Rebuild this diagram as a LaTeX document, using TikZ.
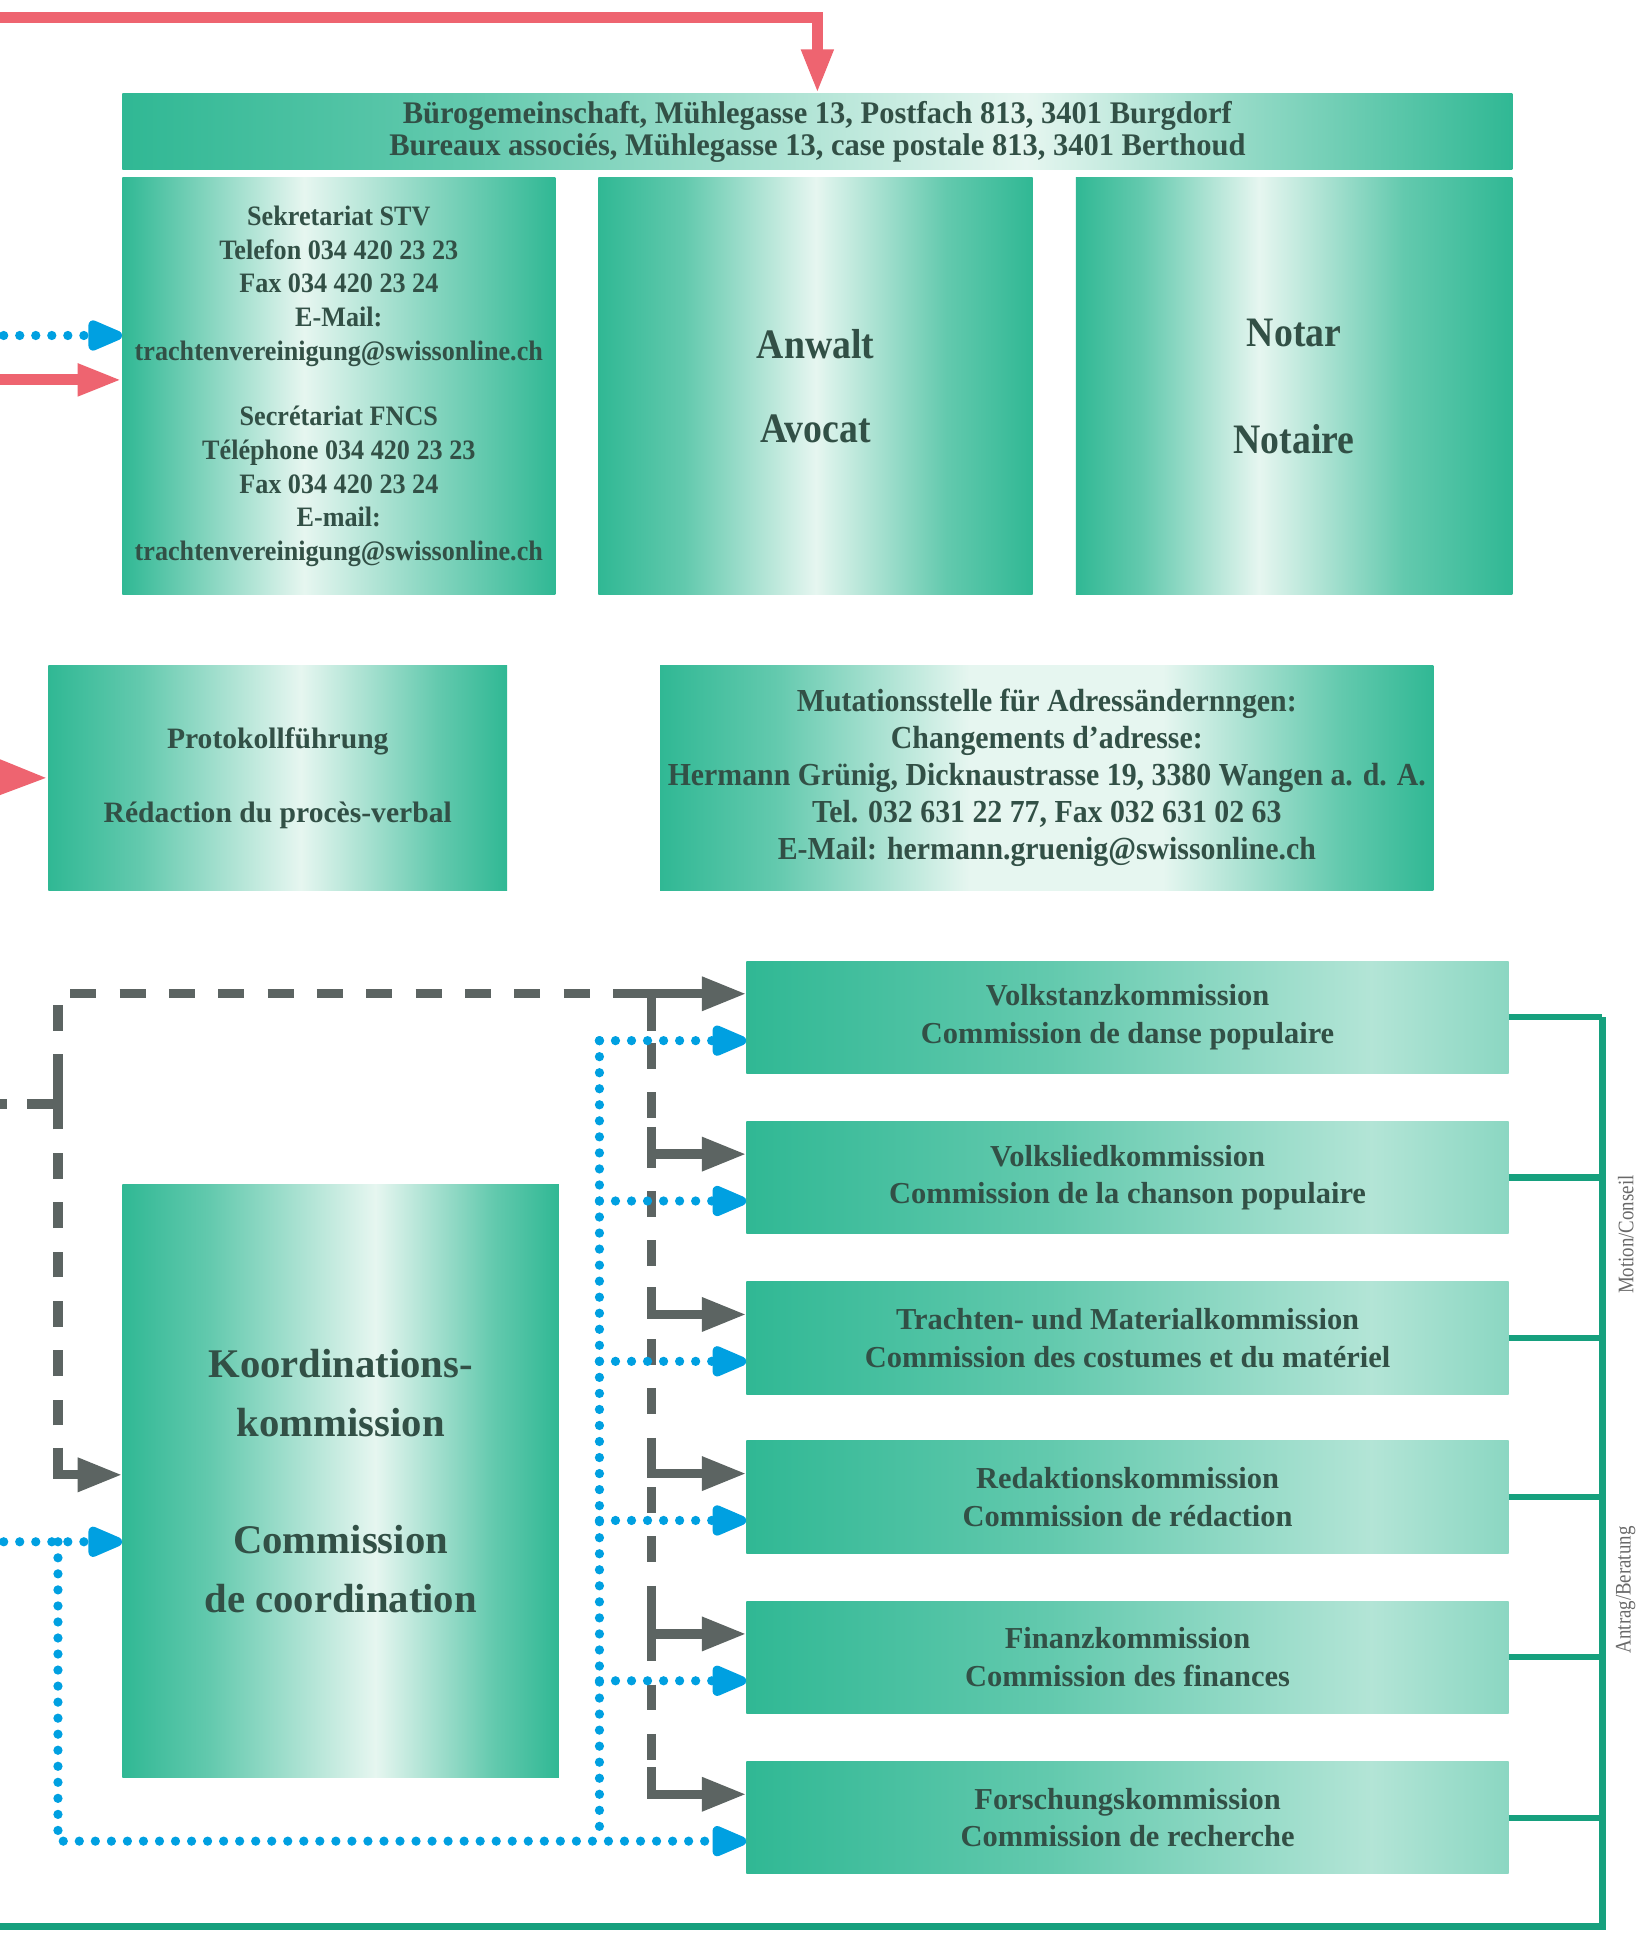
\documentclass[tikz,border=0pt]{standalone}
\usepackage{fontspec}
\setmainfont{Liberation Serif}
\newfontfamily\fBan{Liberation Serif}[FakeStretch=0.97]
\newfontfamily\fSek{Liberation Serif}[FakeStretch=0.93]
\newfontfamily\fMut{Liberation Serif}[FakeStretch=0.93]
\newfontfamily\fCond{Liberation Serif}[FakeStretch=0.9]
\newfontfamily\fLab{Liberation Serif}[FakeStretch=0.85]
\usetikzlibrary{arrows.meta,calc}
\definecolor{tl}{RGB}{48,184,148}
\definecolor{pl}{RGB}{230,246,240}
\colorlet{t1}{tl!72!pl}
\colorlet{tm}{tl!50!pl}
\colorlet{tp}{tl!28!pl}
\definecolor{tx}{RGB}{50,80,70}
\definecolor{rd}{RGB}{238,100,112}
\definecolor{bl}{RGB}{0,160,225}
\definecolor{gy}{RGB}{92,100,98}
\definecolor{gr}{RGB}{22,160,126}
\definecolor{lab}{RGB}{105,105,105}
% stops mapped: box fraction p -> 25 + p/2 (bp)
\pgfdeclarehorizontalshading{gSek}{100bp}{color(0bp)=(tl); color(25bp)=(tl); color(31bp)=(t1); color(46bp)=(pl); color(60bp)=(tm); color(75bp)=(tl); color(100bp)=(tl)}
\pgfdeclarehorizontalshading{gAnw}{100bp}{color(0bp)=(tl); color(25bp)=(tl); color(35bp)=(t1); color(50bp)=(pl); color(65bp)=(t1); color(75bp)=(tl); color(100bp)=(tl)}
\pgfdeclarehorizontalshading{gNot}{100bp}{color(0bp)=(tl); color(25bp)=(tl); color(32.5bp)=(t1); color(46bp)=(pl); color(62.5bp)=(t1); color(75bp)=(tl); color(100bp)=(tl)}
\pgfdeclarehorizontalshading{gBan}{100bp}{color(0bp)=(tl); color(25bp)=(tl); color(37.5bp)=(t1); color(57.5bp)=(pl); color(70bp)=(t1); color(75bp)=(tl); color(100bp)=(tl)}
\pgfdeclarehorizontalshading{gProt}{100bp}{color(0bp)=(tl); color(25bp)=(tl); color(35bp)=(t1); color(52.5bp)=(pl); color(67.5bp)=(t1); color(75bp)=(tl); color(100bp)=(tl)}
\pgfdeclarehorizontalshading{gMut}{100bp}{color(0bp)=(tl); color(25bp)=(tl); color(32.5bp)=(t1); color(45bp)=(pl); color(57.5bp)=(pl); color(69bp)=(t1); color(75bp)=(tl); color(100bp)=(tl)}
\pgfdeclarehorizontalshading{gCom}{100bp}{color(0bp)=(tl); color(25bp)=(tl); color(45bp)=(t1); color(66bp)=(tp); color(75bp)=(tm); color(100bp)=(tm)}
\pgfdeclarehorizontalshading{gKoo}{100bp}{color(0bp)=(tl); color(25bp)=(tl); color(35bp)=(t1); color(54bp)=(pl); color(67.5bp)=(t1); color(75bp)=(tl); color(100bp)=(tl)}
\tikzset{
  box/.style={rectangle, draw=none, inner sep=0pt, anchor=north west, shade, shading angle=0,
    text=tx, align=center, font=\bfseries},
  comm/.style={box, shading=gCom, minimum width=618, minimum height=91,
    font=\bfseries\fontsize{24.7}{30.5}\selectfont},
  redl/.style={draw=rd, line width=9pt, -{Triangle[length=36pt,width=24pt]}},
  bdot/.style={draw=bl, line width=7.5pt, line cap=round, dash pattern=on 0pt off 13pt},
  bdotarr/.style={bdot, -{Triangle[length=34pt,width=26pt,round=false]}},
  gdash/.style={draw=gy, line width=7.5pt, dash pattern=on 21pt off 19pt},
  gsol/.style={draw=gy, line width=7.5pt},
  garr/.style={draw=gy, line width=7.5pt, -{Triangle[length=36pt,width=26pt]}},
  grl/.style={draw=gr, line width=5pt},
  labl/.style={rotate=90, text=lab, font=\fLab\fontsize{18}{18}\selectfont, inner sep=0pt}
}
\begin{document}
\begin{tikzpicture}[x=1pt,y=-1pt]
\useasboundingbox (0,0) rectangle (1334,1568);
\fill[white] (0,0) rectangle (1334,1568);

% boxes
\node[box, shading=gBan, minimum width=1127, minimum height=61,
  font=\fBan\bfseries\fontsize{25.5}{26}\selectfont] (ban) at (99,76)
  {Bürogemeinschaft, Mühlegasse 13, Postfach 813, 3401 Burgdorf\\Bureaux associés, Mühlegasse 13, case postale 813, 3401 Berthoud};
\node[box, shading=gSek, minimum width=351, minimum height=338,
  font=\fSek\bfseries\fontsize{22.8}{27.3}\selectfont] (sek) at (99,144)
  {Sekretariat STV\\Telefon 034 420 23 23\\Fax 034 420 23 24\\E-Mail:\\trachtenvereinigung@swissonline.ch\\[26pt]Secrétariat FNCS\\Téléphone 034 420 23 23\\Fax 034 420 23 24\\E-mail:\\trachtenvereinigung@swissonline.ch};
\node[box, shading=gAnw, minimum width=352, minimum height=338,
  font=\fCond\bfseries\fontsize{34}{34}\selectfont] (anw) at (485,144)
  {Anwalt\\[34pt]Avocat};
\node[box, shading=gNot, minimum width=354, minimum height=338,
  font=\fCond\bfseries\fontsize{34}{43.5}\selectfont] (not) at (872,144)
  {Notar\\[43.5pt]Notaire};
\node[box, shading=gProt, minimum width=372, minimum height=183,
  font=\bfseries\fontsize{24}{30}\selectfont] (prot) at (39,539)
  {Protokollführung\\[30pt]Rédaction du procès-verbal};
\node[box, shading=gMut, minimum width=627, minimum height=183,
  font=\fMut\bfseries\fontsize{26}{30}\selectfont] (mut) at (535,539)
  {Mutationsstelle für Adressändernngen:\\Changements d’adresse:\\Hermann Grünig, Dicknaustrasse 19, 3380 Wangen a. d. A.\\Tel. 032 631 22 77, Fax 032 631 02 63\\E-Mail: hermann.gruenig@swissonline.ch};
\node[box, shading=gKoo, minimum width=354, minimum height=481,
  font=\bfseries\fontsize{33}{47.5}\selectfont] (koo) at (99,960)
  {Koordinations-\\kommission\\[47.5pt]Commission\\de coordination};

\node[comm] (f1) at (605,779) {Volkstanzkommission\\Commission de danse populaire};
\node[comm] (f2) at (605,909) {Volksliedkommission\\Commission de la chanson populaire};
\node[comm] (f3) at (605,1039) {Trachten- und Materialkommission\\Commission des costumes et du matériel};
\node[comm] (f4) at (605,1168) {Redaktionskommission\\Commission de rédaction};
\node[comm] (f5) at (605,1298) {Finanzkommission\\Commission des finances};
\node[comm] (f6) at (605,1428) {Forschungskommission\\Commission de recherche};

% helper coordinates
\coordinate (gl) at (47,0);
\coordinate (gt) at (498,0);
\coordinate (gv) at (528,0);
\coordinate (bx) at (486,0);
\coordinate (gbx) at (1299,0);
\coordinate (rA) at (-5,14);
\coordinate (rB) at (-5,308);
\coordinate (rC) at (-12,630);
\coordinate (bA) at (3,272);
\coordinate (bK) at (3,1250);
\coordinate (bKc) at (47,1250);
\coordinate (gS0) at (0,895);
\coordinate (gS1) at (6,895);
\coordinate (gS2) at (22,895);
\coordinate (gSc) at (47,895);
\coordinate (gB) at (1299,1562);
\coordinate (gBl) at (-5,1562);

% red
\draw[redl] (rA) -| (ban.north);
\draw[redl] (rB) -- (rB -| sek.west);
\draw[redl, -{Triangle[length=39pt,width=26pt]}] (rC) -- (prot.west);

% green bracket
\foreach \n in {1,...,6} \draw[grl] (f\n.east) -- (f\n.east -| gbx);
\draw[grl, line width=6pt] (f1.east -| gbx) -- (gB) -- (gBl);
\node[labl] at (1318,1001) {Motion/Conseil};
\node[labl] at (1318,1289) {Antrag/Beratung};

% gray
\draw[gsol] (gS0) -- (gS1);
\draw[gsol] (gS2) -- (gSc) -- ++(0,-24);
\draw[gdash] ([yshift=5pt]koo.west -| gl) -- ([yshift=19pt]f1.west -| gl) -- ([yshift=19pt]f1.west -| gt);
\draw[garr] ([yshift=19pt]f1.west -| gt) -- ([yshift=19pt]f1.west);
\draw[garr] ($([yshift=5pt]koo.west -| gl)+(0,-22)$) |- ([yshift=5pt]koo.west);
\draw[gdash] ([yshift=19pt]f1.west -| gv) -- ([yshift=19pt]f6.west -| gv);
\draw[gsol] ([yshift=19pt]f1.west -| gv) -- ++(0,30);
\foreach \n in {2,...,6}
  \draw[garr] ($([yshift=19pt]f\n.west -| gv)+(0,-22)$) |- ([yshift=19pt]f\n.west);

% blue
\draw[bdotarr] (bA) -- (bA -| sek.west);
\draw[bdotarr] (bK) -- (bK -| koo.west);
\draw[bdotarr] (bKc) |- ([yshift=-19pt]f6.west);
\draw[bdot] ([yshift=-19pt]f1.west -| bx) -- ([yshift=-19pt]f6.west -| bx);
\foreach \n in {1,...,5}
  \draw[bdotarr] ([yshift=-19pt]f\n.west -| bx) -- ([yshift=-19pt]f\n.west);
\end{tikzpicture}
\end{document}
